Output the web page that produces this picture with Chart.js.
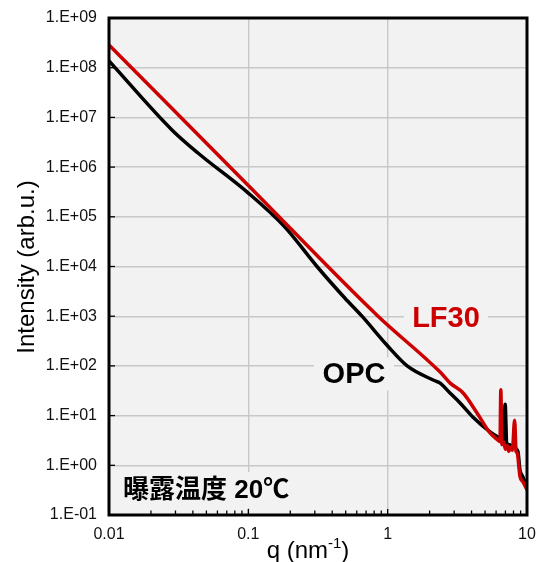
<!DOCTYPE html>
<html>
<head>
<meta charset="utf-8">
<script src="https://cdn.jsdelivr.net/npm/chart.js@4.4.1/dist/chart.umd.min.js"></script>
<style>
  html, body { margin: 0; padding: 0; background: #ffffff; }
  #wrap { width: 541px; height: 562px; }
</style>
</head>
<body>
<div id="wrap"><canvas id="c" width="541" height="562"></canvas></div>
<script>
// ---- data ----
const opcQ = [0.01, 0.0283, 0.0435, 0.1, 0.183, 0.311, 0.494, 0.654, 0.99, 1.38, 2.12, 2.38, 2.8, 3.31, 4.1, 5.43, 6.2, 6.8, 6.97, 7.15, 7.5, 8.0, 8.6, 8.9, 9.3, 10];
const opcI = [1.37e8, 5.6e6, 1.92e6, 3.0e5, 6.2e4, 1.0e4, 2.3e3, 1.0e3, 260, 100, 52, 45, 28.5, 18, 9.3, 4.7, 3.7, 3.3, 17, 2.8, 2.6, 2.3, 1.9, 0.8, 0.6, 0.38];

const lfQ = [0.01, 0.1, 0.853, 2.38, 2.81, 3.48, 4.38, 5.43, 6.2, 6.4, 6.49, 6.6, 6.8, 7.0, 7.2, 7.4, 7.6, 7.85, 8.15, 8.35, 8.5, 8.9, 9.37, 10];
const lfI = [2.86e8, 4.28e5, 1.0e3, 75, 45, 28.5, 11.3, 4.47, 3.2, 3.0, 33, 2.6, 2.9, 2.1, 2.5, 1.9, 2.3, 2.0, 8.1, 1.9, 1.78, 0.6, 0.46, 0.32];

const xTicks = [0.01, 0.1, 1, 10];
const xTickLabels = ['0.01', '0.1', '1', '10'];
const yTicks = [1e-1, 1e0, 1e1, 1e2, 1e3, 1e4, 1e5, 1e6, 1e7, 1e8, 1e9];
const yTickLabels = ['1.E-01', '1.E+00', '1.E+01', '1.E+02', '1.E+03', '1.E+04', '1.E+05', '1.E+06', '1.E+07', '1.E+08', '1.E+09'];
const seriesNames = ['LF30', 'OPC'];

const FONT = '"Liberation Sans", Arial, "Noto Sans CJK JP", sans-serif';
const PLOT_BG = '#f2f2f2';

function toPts(qs, is) { return qs.map((q, i) => ({ x: q, y: is[i] })); }

const bgPlugin = {
  id: 'bg',
  beforeDraw(chart) {
    const { ctx, chartArea: a } = chart;
    ctx.save();
    ctx.fillStyle = PLOT_BG;
    ctx.fillRect(a.left, a.top, a.right - a.left, a.bottom - a.top);
    ctx.restore();
  }
};

const decorPlugin = {
  id: 'decor',
  afterDatasetsDraw(chart) {
    const { ctx, chartArea: a, scales } = chart;
    const xs = scales.x, ys = scales.y;
    ctx.save();
    ctx.strokeStyle = '#000';
    ctx.lineWidth = 1.3;
    for (let d = -2; d < 1; d++) {
      for (let m = 1; m <= 9; m++) {
        const v = m * Math.pow(10, d);
        const px = xs.getPixelForValue(v);
        const len = m === 1 ? 6 : 4.5;
        ctx.beginPath();
        ctx.moveTo(px, a.bottom);
        ctx.lineTo(px, a.bottom - len);
        ctx.stroke();
      }
    }
    yTicks.forEach(v => {
      const py = ys.getPixelForValue(v);
      ctx.beginPath();
      ctx.moveTo(a.left, py);
      ctx.lineTo(a.left + 6, py);
      ctx.stroke();
    });

    function label(text, cx, cy, color, size, boxW, boxH, align) {
      ctx.font = 'bold ' + size + 'px ' + FONT;
      const left = align === 'left' ? cx - 6 : cx - boxW / 2;
      ctx.fillStyle = PLOT_BG;
      ctx.fillRect(left, cy - boxH / 2, boxW, boxH);
      ctx.fillStyle = color;
      ctx.textBaseline = 'middle';
      ctx.textAlign = align || 'center';
      ctx.fillText(text, cx, cy + 1);
    }
    label(seriesNames[0], 446, 318, '#cc0000', 29, 84, 32);
    label(seriesNames[1], 354, 374, '#000000', 29, 80, 33);
    label('曝露温度 20℃', 123, 490, '#000000', 26, 182, 36, 'left');

    ctx.strokeStyle = '#000';
    ctx.lineWidth = 3;
    ctx.strokeRect(a.left, a.top, a.right - a.left, a.bottom - a.top);
    ctx.restore();
  },
  afterDraw(chart) {
    const { ctx, chartArea: a, scales } = chart;
    ctx.save();
    ctx.fillStyle = '#111';
    ctx.font = '16px ' + FONT;
    ctx.textBaseline = 'middle';
    ctx.textAlign = 'right';
    yTicks.forEach((v, i) => ctx.fillText(yTickLabels[i], a.left - 12, scales.y.getPixelForValue(v)));
    ctx.textAlign = 'center';
    xTicks.forEach((v, i) => ctx.fillText(xTickLabels[i], scales.x.getPixelForValue(v), a.bottom + 20));

    ctx.fillStyle = '#000';
    const big = '24px ' + FONT, small = '15px ' + FONT;
    ctx.font = big;
    const t1 = 'q (nm', t3 = ')';
    const w1 = ctx.measureText(t1).width, w3 = ctx.measureText(t3).width;
    ctx.font = small;
    const t2 = '-1';
    const w2 = ctx.measureText(t2).width;
    const total = w1 + w2 + w3;
    let x = 308 - total / 2;
    const base = 558;
    ctx.textBaseline = 'alphabetic';
    ctx.textAlign = 'left';
    ctx.font = big; ctx.fillText(t1, x, base); x += w1;
    ctx.font = small; ctx.fillText(t2, x, base - 10); x += w2;
    ctx.font = big; ctx.fillText(t3, x, base);
    ctx.translate(27, 267);
    ctx.rotate(-Math.PI / 2);
    ctx.font = '24px ' + FONT;
    ctx.textAlign = 'center';
    ctx.textBaseline = 'middle';
    ctx.fillText('Intensity (arb.u.)', 0, 0);
    ctx.restore();
  }
};

new Chart(document.getElementById('c'), {
  type: 'line',
  data: {
    datasets: [
      { label: seriesNames[0], data: toPts(lfQ, lfI), borderColor: '#cc0000', borderWidth: 3.5, pointRadius: 0, cubicInterpolationMode: 'monotone', fill: false, borderJoinStyle: 'round' },
      { label: seriesNames[1], data: toPts(opcQ, opcI), borderColor: '#000000', borderWidth: 3.5, pointRadius: 0, cubicInterpolationMode: 'monotone', fill: false, borderJoinStyle: 'round' }
    ]
  },
  options: {
    responsive: false,
    animation: false,
    events: [],
    layout: { padding: { top: 18, right: 14, left: 0, bottom: 0 } },
    plugins: { legend: { display: false }, tooltip: { enabled: false }, title: { display: false } },
    scales: {
      x: {
        type: 'logarithmic', min: 0.01, max: 10,
        afterBuildTicks(s) { s.ticks = xTicks.map(v => ({ value: v })); },
        afterFit(s) { s.height = 47; },
        ticks: { display: false },
        grid: { color: '#c8c8c8', lineWidth: 1.4, drawTicks: false },
        border: { display: false }
      },
      y: {
        type: 'logarithmic', min: 0.1, max: 1e9,
        afterBuildTicks(s) { s.ticks = yTicks.map(v => ({ value: v })); },
        afterFit(s) { s.width = 109; },
        ticks: { display: false },
        grid: { color: '#c8c8c8', lineWidth: 1.4, drawTicks: false },
        border: { display: false }
      }
    }
  },
  plugins: [bgPlugin, decorPlugin]
});
</script>
</body>
</html>
